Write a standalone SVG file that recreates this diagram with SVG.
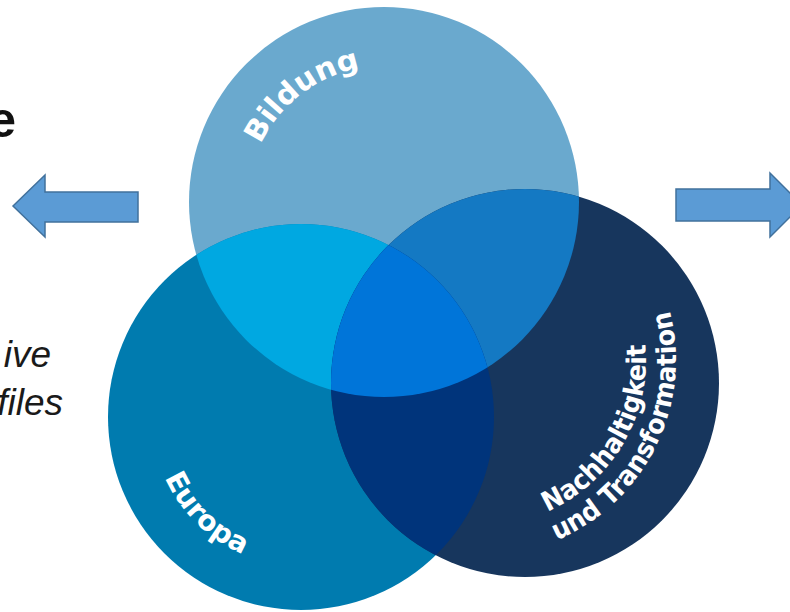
<svg xmlns="http://www.w3.org/2000/svg" width="790" height="612" viewBox="0 0 790 612">
<style>
.lbl{font-family:"DejaVu Sans","Liberation Sans",sans-serif;font-weight:bold;fill:#ffffff}
.side{font-family:"Liberation Sans",Arial,sans-serif;font-style:italic;fill:#1a1a1a;font-size:37px}
.arrow{fill:#5B9BD5;stroke:#41719C;stroke-width:1.5}
</style>
<defs>
<clipPath id="cA"><circle cx="384" cy="202" r="195"/></clipPath>
<clipPath id="cB"><circle cx="301" cy="417" r="193"/></clipPath>
<clipPath id="cC"><circle cx="525" cy="383" r="194"/></clipPath>
<path id="pBild" d="M 260.74,144.53 A 136,136 0 0,1 360.38,68.07"/>
<path id="pEuro" d="M 164.9,477.6 A 149,149 0 0,0 250.04,557.0"/>
<path id="pN1" d="M 547.5,511.6 A 166,166 0 0,0 644.4,336.9"/>
<path id="pN2" d="M 556.6,540.4 A 196,196 0 0,0 668.4,306.0"/>
</defs>
<rect width="790" height="612" fill="#ffffff"/>
<g id="side-text">
<text x="16" y="137" font-family="Liberation Sans,Arial,sans-serif" font-weight="bold" font-size="50" fill="#111" text-anchor="end">e</text>
<text class="side" x="51" y="367" text-anchor="end">ive</text>
<text class="side" x="63" y="415" text-anchor="end">files</text>
</g>
<g id="arrows">
<polygon class="arrow" points="13,206 45,175 45,192 138,192 138,222 45,222 45,237"/>
<polygon class="arrow" points="676,189 770,189 770,173 802,205 770,237 770,221 676,221"/>
</g>
<g id="node-bildung">
<circle cx="384" cy="202" r="195" fill="#6AA9CE"/>
</g>
<g id="node-europa">
<circle cx="301" cy="417" r="193" fill="#007BAF"/>
</g>
<g id="node-nachhaltigkeit">
<circle cx="525" cy="383" r="194" fill="#17365D"/>
</g>
<g id="overlaps">
<circle cx="301" cy="417" r="193" fill="#00A8E1" clip-path="url(#cA)"/>
<circle cx="525" cy="383" r="194" fill="#1479C3" clip-path="url(#cA)"/>
<circle cx="525" cy="383" r="194" fill="#00347B" clip-path="url(#cB)"/>
<g clip-path="url(#cA)"><circle cx="525" cy="383" r="194" fill="#0075D9" clip-path="url(#cB)"/></g>
</g>
<g id="labels">
<text class="lbl" font-size="29"><textPath href="#pBild" textLength="130" lengthAdjust="spacingAndGlyphs">Bildung</textPath></text>
<text class="lbl" font-size="28"><textPath href="#pEuro" textLength="112" lengthAdjust="spacingAndGlyphs">Europa</textPath></text>
<text class="lbl" font-size="27"><textPath href="#pN1" textLength="207" lengthAdjust="spacingAndGlyphs">Nachhaltigkeit</textPath></text>
<text class="lbl" font-size="27"><textPath href="#pN2" textLength="279" lengthAdjust="spacingAndGlyphs">und Transformation</textPath></text>
</g>
</svg>
